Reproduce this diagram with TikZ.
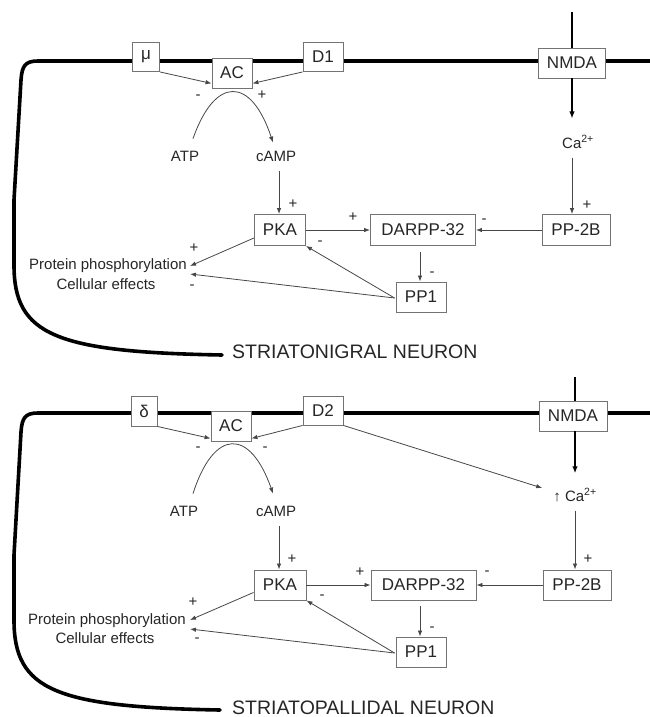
\documentclass[tikz,border=0pt]{standalone}
\usepackage{fontspec}
\setmainfont{Liberation Sans}
\usetikzlibrary{arrows.meta,calc}

\tikzset{
  membrane/.style={line width=3.6pt, black, line cap=round, line join=round},
  box/.style={draw=black!55, line width=0.9pt, fill=white, inner sep=0pt,
    minimum height=30pt, text=black!85, font=\fontsize{17}{17}\selectfont},
  lbl/.style={inner sep=1pt, text=black!85, font=\fontsize{15}{15}\selectfont},
  sgn/.style={inner sep=0pt, text=black!85, font=\fontsize{15}{15}\selectfont},
  arr/.style={draw=black!72, line width=0.8pt, -{Latex[length=6pt,width=4.5pt]}},
  gate/.style={draw=black, line width=2pt},
  gatearr/.style={gate, -{Latex[length=7pt,width=5.5pt]}},
  title/.style={anchor=base west, inner sep=0pt, text=black!85,
    font=\fontsize{19.5}{19.5}\selectfont},
}

\begin{document}
\begin{tikzpicture}[x=1pt,y=-1pt]
\useasboundingbox (0,0) rectangle (650,717);

% ---------------- striatonigral neuron ----------------
\draw[membrane] (650,61) -- (38,61) .. controls (25,61) and (22,66) .. (21,80)
  -- (14,200) -- (14,265) .. controls (14,335) and (55,352) .. (222,355);

\node[box, minimum width=27pt, minimum height=29pt] (mu) at (146,57) {μ};
\node[box, minimum width=40pt] (ac1) at (232,73) {AC};
\node[box, minimum width=40pt, minimum height=29pt] (d1) at (323,57) {D1};
\node[box, minimum width=67pt] (nmda1) at (572,63) {NMDA};
\node[lbl] (atp1) at (185,156) {ATP};
\node[lbl] (camp1) at (276,156) {cAMP};
\node[lbl] (ca1) at (578,142) {Ca\textsuperscript{2+}};
\node[box, minimum width=68pt, minimum height=31pt] (pp2b1) at (576,230) {PP-2B};
\node[box, minimum width=105pt, minimum height=31pt] (darpp1) at (423,230) {DARPP-32};
\node[box, minimum width=51pt, minimum height=31pt] (pka1) at (280,230) {PKA};
\node[box, minimum width=50pt] (pp11) at (421,297) {PP1};
\node[lbl, anchor=east] (prot1) at (188,266) {Protein phosphorylation};
\node[lbl] (cell1) at (106,284) {Cellular effects};
\node[title] (t1) at (232,358) {STRIATONIGRAL NEURON};

\coordinate (nmdatop1) at (572,12);
\draw[gate] (nmdatop1) -- (nmda1.north);
\draw[gatearr] (nmda1.south) -- ($(ca1.north -| nmda1.south)+(0,-16)$);

\draw[arr] (mu.south east) -- ([yshift=5pt]ac1.south west);
\draw[arr] (d1.south west) -- ([yshift=5pt]ac1.south east);
\draw[arr] ($(atp1.north)+(8,-11)$) .. controls (215,76) and (251,76) .. ($(camp1.north)+(-3,-7)$);
\draw[arr] ($(camp1.south -| pka1.north)+(-1,9)$) -- ($(pka1.north)+(-1,0)$);
\draw[arr] ($(ca1.south -| nmda1.south)+(0,8)$) -- (pp2b1.north -| nmda1.south);
\draw[arr] (pp2b1.west) -- (darpp1.east);
\draw[arr] (pka1.east) -- (darpp1.west);
\draw[arr] ($(darpp1.south -| pp11.north)+(-1,6)$) -- ($(pp11.north)+(-1,0)$);
\draw[arr] ($(pp11.west)+(-1,1)$) -- (pka1.south east);
\draw[arr] ($(pp11.west)+(-1,1)$) -- ($(prot1.east)+(2,8)$);
\draw[arr] ([yshift=8pt]pka1.south west) -- ($(prot1.east)+(2,0)$);

\node[sgn] (s1a) at (198,97) {-};
\node[sgn] (s1b) at (262,95) {+};
\node[sgn] (s1c) at (293,204) {+};
\node[sgn] (s1d) at (587,205) {+};
\node[sgn] (s1e) at (353,217) {+};
\node[sgn] (s1f) at (484,221) {-};
\node[sgn] (s1g) at (432,274) {-};
\node[sgn] (s1h) at (320,243) {-};
\node[sgn] (s1i) at (194,248) {+};
\node[sgn] (s1j) at (192,287) {-};

% ---------------- striatopallidal neuron ----------------
\draw[membrane] (650,413) -- (38,413) .. controls (25,413) and (22,418) .. (21,432)
  -- (14,555) -- (14,620) .. controls (14,690) and (55,707) .. (220,710);

\node[box, minimum width=26pt] (delta) at (144,411) {δ};
\node[box, minimum width=40pt] (ac2) at (231,426) {AC};
\node[box, minimum width=40pt, minimum height=29pt] (d2) at (323,410.5) {D2};
\node[box, minimum width=68pt] (nmda2) at (573,416) {NMDA};
\node[lbl] (atp2) at (184,511) {ATP};
\node[lbl] (camp2) at (276,511) {cAMP};
\node[lbl] (ca2) at (575,495) {↑ Ca\textsuperscript{2+}};
\node[box, minimum width=68pt] (pp2b2) at (577,585) {PP-2B};
\node[box, minimum width=105pt] (darpp2) at (423.5,585) {DARPP-32};
\node[box, minimum width=52pt] (pka2) at (280,585) {PKA};
\node[box, minimum width=50pt] (pp12) at (421,652) {PP1};
\node[lbl, anchor=east] (prot2) at (187,621) {Protein phosphorylation};
\node[lbl] (cell2) at (105,638) {Cellular effects};
\node[title] (t2) at (232,714) {STRIATOPALLIDAL NEURON};

\coordinate (nmdatop2) at (575,377);
\draw[gate] (nmdatop2) -- (nmdatop2 |- nmda2.north);
\draw[gatearr] (nmdatop2 |- nmda2.south) -- ($(nmdatop2 |- ca2.north)+(0,-14)$);

\draw[arr] (delta.south east) -- ([yshift=3pt]ac2.south west);
\draw[arr] (d2.south west) -- ([yshift=3pt]ac2.south east);
\draw[arr] (d2.south east) -- ($(ca2.west)+(-10,-7)$);
\draw[arr] ($(atp2.north)+(9,-11)$) .. controls (214,428) and (250,428) .. ($(camp2.north)+(-3,-11)$);
\draw[arr] ($(camp2.south -| pka2.north)+(-1,9)$) -- ($(pka2.north)+(-1,0)$);
\draw[arr] ($(ca2.south -| nmdatop2)+(0,8)$) -- (pp2b2.north -| nmdatop2);
\draw[arr] (pp2b2.west) -- (darpp2.east);
\draw[arr] (pka2.east) -- (darpp2.west);
\draw[arr] ($(darpp2.south -| pp12.north)+(-1,6)$) -- ($(pp12.north)+(-1,0)$);
\draw[arr] ($(pp12.west)+(-1,1)$) -- (pka2.south east);
\draw[arr] ($(pp12.west)+(-1,1)$) -- ($(prot2.east)+(3,8)$);
\draw[arr] ([yshift=8pt]pka2.south west) -- ($(prot2.east)+(3,-1)$);

\node[sgn] (s2a) at (198,449) {-};
\node[sgn] (s2b) at (265,449) {-};
\node[sgn] (s2c) at (292,559) {+};
\node[sgn] (s2d) at (588,559) {+};
\node[sgn] (s2e) at (360,572) {+};
\node[sgn] (s2f) at (487,573) {-};
\node[sgn] (s2g) at (432,629) {-};
\node[sgn] (s2h) at (322,597) {-};
\node[sgn] (s2i) at (193,602) {+};
\node[sgn] (s2j) at (197,640) {-};
\end{tikzpicture}
\end{document}
